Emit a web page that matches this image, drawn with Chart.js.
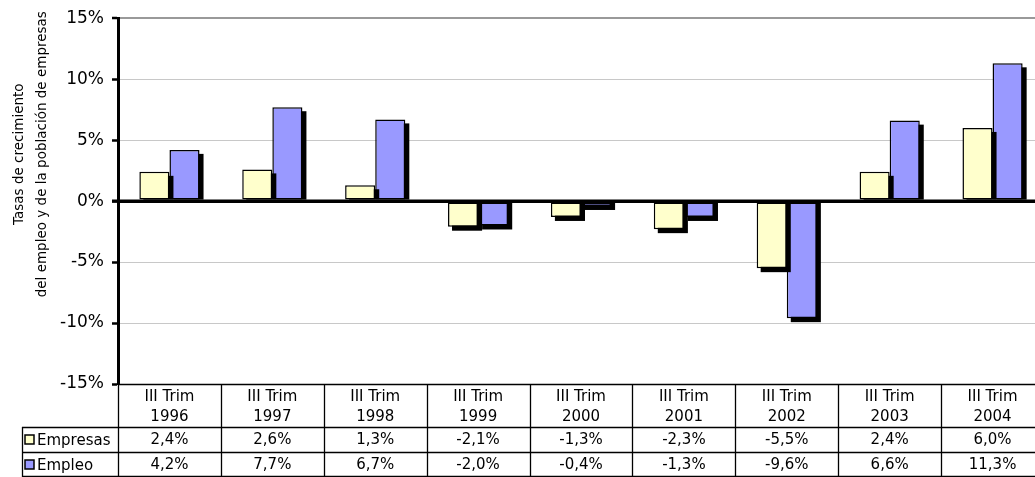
<!DOCTYPE html>
<html>
<head>
<meta charset="utf-8">
<script src="https://cdn.jsdelivr.net/npm/chart.js@4/dist/chart.umd.min.js"></script>
<style>
  html, body { margin: 0; padding: 0; background: #fff; overflow: hidden; }
  #wrap { position: relative; width: 1044px; height: 477px; }
</style>
</head>
<body>
<div id="wrap"><canvas id="c"></canvas></div>
<script>
const categories = [
  ['III Trim', '1996'], ['III Trim', '1997'], ['III Trim', '1998'],
  ['III Trim', '1999'], ['III Trim', '2000'], ['III Trim', '2001'],
  ['III Trim', '2002'], ['III Trim', '2003'], ['III Trim', '2004']
];
const empresas = [2.4, 2.6, 1.3, -2.1, -1.3, -2.3, -5.5, 2.4, 6.0];
const empleo   = [4.2, 7.7, 6.7, -2.0, -0.4, -1.3, -9.6, 6.6, 11.3];
const seriesNames = ['Empresas', 'Empleo'];
const yTitle = ['Tasas de crecimiento', 'del empleo y de la población de empresas'];
const yMin = -15, yMax = 15, yStep = 5;

const FONT = '"DejaVu Sans", Verdana, sans-serif';
const colors = ['#FFFFCC', '#9999FF'];
const fmt = v => v.toFixed(1).replace('.', ',') + '%';

// Black offset shadows behind bars (computed from the library's bar elements)
const shadowPlugin = {
  id: 'barShadow',
  beforeDatasetDraw(chart, args) {
    const meta = args.meta;
    const ctx = chart.ctx;
    ctx.save();
    ctx.fillStyle = '#000';
    const off = 4;
    meta.data.forEach(bar => {
      const p = bar.getProps(['x', 'y', 'base', 'width'], true);
      const left = p.x - p.width / 2;
      if (p.y <= p.base) {
        ctx.fillRect(left + off, p.y + off, p.width, p.base - p.y - off);
      } else {
        ctx.fillRect(left + off, p.base, p.width, p.y - p.base + off);
      }
    });
    ctx.restore();
  }
};

// Zero line on top of bars, y-axis title and the data table
const tablePlugin = {
  id: 'dataTable',
  afterDatasetsDraw(chart) {
    const ctx = chart.ctx, a = chart.chartArea, y = chart.scales.y;
    const y0 = y.getPixelForValue(0);
    ctx.save();
    ctx.strokeStyle = '#000';
    ctx.lineWidth = 3;
    ctx.beginPath();
    ctx.moveTo(a.left - 6, y0);
    ctx.lineTo(a.right, y0);
    ctx.stroke();
    ctx.restore();
  },
  afterDraw(chart) {
    const ctx = chart.ctx, a = chart.chartArea, xs = chart.scales.x, ys = chart.scales.y;
    ctx.save();
    // y-axis title (two rotated lines)
    const yc = ys.getPixelForValue(yMax) + 136;
    ctx.fillStyle = '#000';
    ctx.font = '13.5px ' + FONT;
    ctx.textAlign = 'center';
    ctx.textBaseline = 'middle';
    const titleX = [19, 42];
    yTitle.forEach((t, i) => {
      ctx.save();
      ctx.translate(titleX[i], yc);
      ctx.rotate(-Math.PI / 2);
      ctx.fillText(t, 0, 0);
      ctx.restore();
    });

    // table
    const n = categories.length;
    const half = (xs.getPixelForValue(1) - xs.getPixelForValue(0)) / 2;
    const bounds = [];
    for (let i = 0; i < n; i++) bounds.push(xs.getPixelForValue(i) - half);
    bounds.push(xs.getPixelForValue(n - 1) + half);
    const top = a.bottom;
    const r1 = top + 43, r2 = r1 + 25, r3 = r2 + 25;
    const legL = 22;

    ctx.strokeStyle = '#000';
    ctx.lineWidth = 1.3;
    ctx.beginPath();
    ctx.moveTo(a.left, top + 0.5); ctx.lineTo(bounds[n], top + 0.5);
    ctx.moveTo(legL, r1 + 0.5); ctx.lineTo(bounds[n], r1 + 0.5);
    ctx.moveTo(legL, r2 + 0.5); ctx.lineTo(bounds[n], r2 + 0.5);
    ctx.moveTo(legL, r3 - 0.5); ctx.lineTo(bounds[n], r3 - 0.5);
    bounds.forEach(b => { const x = Math.round(b) + 0.5; ctx.moveTo(x, top); ctx.lineTo(x, r3); });
    ctx.moveTo(legL + 0.5, r1); ctx.lineTo(legL + 0.5, r3);
    ctx.stroke();

    // header text
    ctx.fillStyle = '#000';
    ctx.font = '15px ' + FONT;
    ctx.textAlign = 'center';
    ctx.textBaseline = 'middle';
    categories.forEach((c, i) => {
      const cx = xs.getPixelForValue(i);
      ctx.fillText(c[0], cx, top + 13);
      ctx.fillText(c[1], cx, top + 33);
    });
    // values
    [empresas, empleo].forEach((arr, k) => {
      const cy = (k === 0 ? r1 : r2) + 13.5;
      arr.forEach((v, i) => ctx.fillText(fmt(v), xs.getPixelForValue(i), cy));
    });
    // legend keys
    ctx.textAlign = 'left';
    seriesNames.forEach((name, k) => {
      const cy = (k === 0 ? r1 : r2) + 13;
      ctx.fillStyle = colors[k];
      ctx.fillRect(25, cy - 5, 9, 9);
      ctx.strokeStyle = '#000';
      ctx.lineWidth = 1.5;
      ctx.strokeRect(25, cy - 5, 9, 9);
      ctx.fillStyle = '#000';
      ctx.fillText(name, 37, cy + 1);
    });
    ctx.restore();
  }
};

new Chart(document.getElementById('c'), {
  type: 'bar',
  data: {
    labels: categories,
    datasets: [
      { label: seriesNames[0], data: empresas, backgroundColor: colors[0], borderColor: '#000', borderWidth: 1.5, borderSkipped: false },
      { label: seriesNames[1], data: empleo, backgroundColor: colors[1], borderColor: '#000', borderWidth: 1.5, borderSkipped: false }
    ]
  },
  options: {
    responsive: true,
    maintainAspectRatio: false,
    animation: false,
    layout: { padding: { top: 16, left: 0, right: 0, bottom: 0 } },
    datasets: { bar: { categoryPercentage: 0.585, barPercentage: 1.0 } },
    plugins: { legend: { display: false }, tooltip: { enabled: false } },
    scales: {
      x: {
        ticks: { display: false },
        grid: { display: false },
        border: { display: false },
        afterFit(s) { s.height = 93; }
      },
      y: {
        min: yMin, max: yMax,
        ticks: {
          stepSize: yStep,
          color: '#000',
          padding: 8,
          font: { family: FONT, size: 17 },
          callback: v => v + '%'
        },
        grid: {
          color: c => c.tick.value === yMax ? '#999' : (c.tick.value === 0 || c.tick.value === yMin ? '#000' : '#c8c8c8'),
          lineWidth: c => c.tick.value === yMax ? 2 : (c.tick.value === 0 ? 3 : 1),
          tickColor: '#000',
          tickWidth: 2.5,
          tickLength: 6
        },
        border: { color: '#000', width: 3 },
        afterFit(s) { s.width = 118; }
      }
    }
  },
  plugins: [shadowPlugin, tablePlugin]
});
</script>
</body>
</html>
